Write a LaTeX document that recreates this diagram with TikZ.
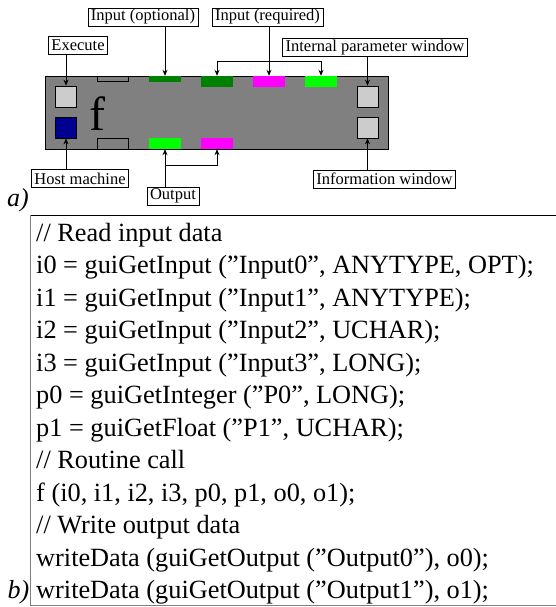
\documentclass[tikz,border=0pt]{standalone}
\usepackage{fontspec}
\setmainfont{Liberation Serif}
\usetikzlibrary{arrows.meta}
\definecolor{boxgray}{HTML}{808080}
\definecolor{wingray}{HTML}{CCCCCC}
\definecolor{hostblue}{HTML}{000090}
\definecolor{dgreen}{HTML}{008000}
\definecolor{lgreen}{HTML}{00FF00}
\definecolor{magent}{HTML}{FF00FF}
\begin{document}
\begin{tikzpicture}[x=1pt,y=-1pt,
  lbl/.style={draw=black, fill=white, font=\fontsize{16.5}{18}\selectfont, inner xsep=3pt, inner ysep=0pt, minimum height=18pt, line width=0.7pt},
  arr/.style={-{Stealth[length=6pt,width=5pt]}, line width=0.8pt},
  port/.style={draw=none, inner sep=0pt, minimum width=32pt},
  win/.style={draw=black, line width=0.7pt, inner sep=0pt, minimum size=21pt},
  codeline/.style={anchor=base west, inner sep=0pt, font=\fontsize{26.3}{32.5}\selectfont},
  tag/.style={inner sep=0pt, font=\fontsize{26}{30}\selectfont\itshape}]
\useasboundingbox (0,0) rectangle (556,607);
% main block
\node[draw=black, line width=0.7pt, fill=boxgray, minimum width=343pt, minimum height=73pt, inner sep=0pt] (box) at (216.5,112.5) {};
\node[win, fill=wingray] (exec) at (66,96.5) {};
\node[win, fill=hostblue] (host) at (66,127.5) {};
\node[win, fill=wingray] (ipw) at (367.5,96.5) {};
\node[win, fill=wingray] (iw) at (367.5,127.5) {};
\node[anchor=base west, inner sep=0pt, font=\fontsize{48}{50}\selectfont] (fname) at (89,130) {f};
\node[draw=black, line width=0.7pt, inner sep=0pt, minimum width=31pt, minimum height=5pt] (tslot) at (112.5,78.5) {};
\node[draw=black, line width=0.7pt, inner sep=0pt, minimum width=31pt, minimum height=11pt] (bslot) at (112.5,143.5) {};
\node[port, fill=dgreen, minimum height=6pt] (dg1) at (165,79) {};
\node[port, fill=dgreen, minimum height=11pt] (dg2) at (217,81.5) {};
\node[port, fill=magent, minimum height=11pt] (mg1) at (269,81.5) {};
\node[port, fill=lgreen, minimum height=11pt] (gr1) at (321,81.5) {};
\node[port, fill=lgreen, minimum height=11pt] (og) at (165,143.5) {};
\node[port, fill=magent, minimum height=11pt] (om) at (217,143.5) {};
% labels
\node[lbl] (lblopt) at (143,17) {Input (optional)};
\node[lbl] (lblreq) at (267.5,17) {Input (required)};
\node[lbl] (lblexec) at (78,45.5) {Execute};
\node[lbl] (lblipw) at (375,47.5) {Internal parameter window};
\node[lbl] (lblhost) at (80,178.5) {Host machine};
\node[lbl] (lblout) at (173,196) {Output};
\node[lbl] (lbliw) at (384.5,179) {Information window};
% connectors
\draw[arr] (lblopt.south -| dg1.north) -- (dg1.north);
\draw[arr] (lblreq.south -| mg1.north) -- (mg1.north);
\path (mg1.north) ++(0,-14) coordinate (bk);
\draw[arr] (bk) -| (dg2.north);
\draw[arr] (bk) -| (gr1.north);
\draw[arr] (lblexec.south -| exec.north) -- (exec.north);
\draw[arr] (lblipw.south -| ipw.north) -- (ipw.north);
\draw[arr] (lblhost.north -| host.south) -- (host.south);
\draw[arr] (lblout.north -| og.south) -- (og.south);
\path (og.south) ++(0,16) coordinate (bk2);
\draw[arr] (bk2) -| (om.south);
\draw[arr] (lbliw.north -| iw.south) -- (iw.south);
\node[tag, anchor=base west] (taga) at (7,206) {a)};
% code frame
\draw[black, line width=0.8pt] (556,215) -- (30,215);
\draw[gray, line width=0.8pt] (30,215) -- (30,605) -- (556,605);
\node[codeline] (c1) at (36,241) {// Read input data};
\node[codeline] (c2) at (36,273.5) {i0 = guiGetInput (”Input0”, ANYTYPE, OPT);};
\node[codeline] (c3) at (36,306) {i1 = guiGetInput (”Input1”, ANYTYPE);};
\node[codeline] (c4) at (36,338.5) {i2 = guiGetInput (”Input2”, UCHAR);};
\node[codeline] (c5) at (36,371) {i3 = guiGetInput (”Input3”, LONG);};
\node[codeline] (c6) at (36,403.5) {p0 = guiGetInteger (”P0”, LONG);};
\node[codeline] (c7) at (36,436) {p1 = guiGetFloat (”P1”, UCHAR);};
\node[codeline] (c8) at (36,468.5) {// Routine call};
\node[codeline] (c9) at (36,501) {f (i0, i1, i2, i3, p0, p1, o0, o1);};
\node[codeline] (c10) at (36,533.5) {// Write output data};
\node[codeline] (c11) at (36,566) {writeData (guiGetOutput (”Output0”), o0);};
\node[codeline] (c12) at (36,598.5) {writeData (guiGetOutput (”Output1”), o1);};
\node[tag, anchor=base east] (tagb) at (29.5,598.5) {b)};
\end{tikzpicture}
\end{document}
